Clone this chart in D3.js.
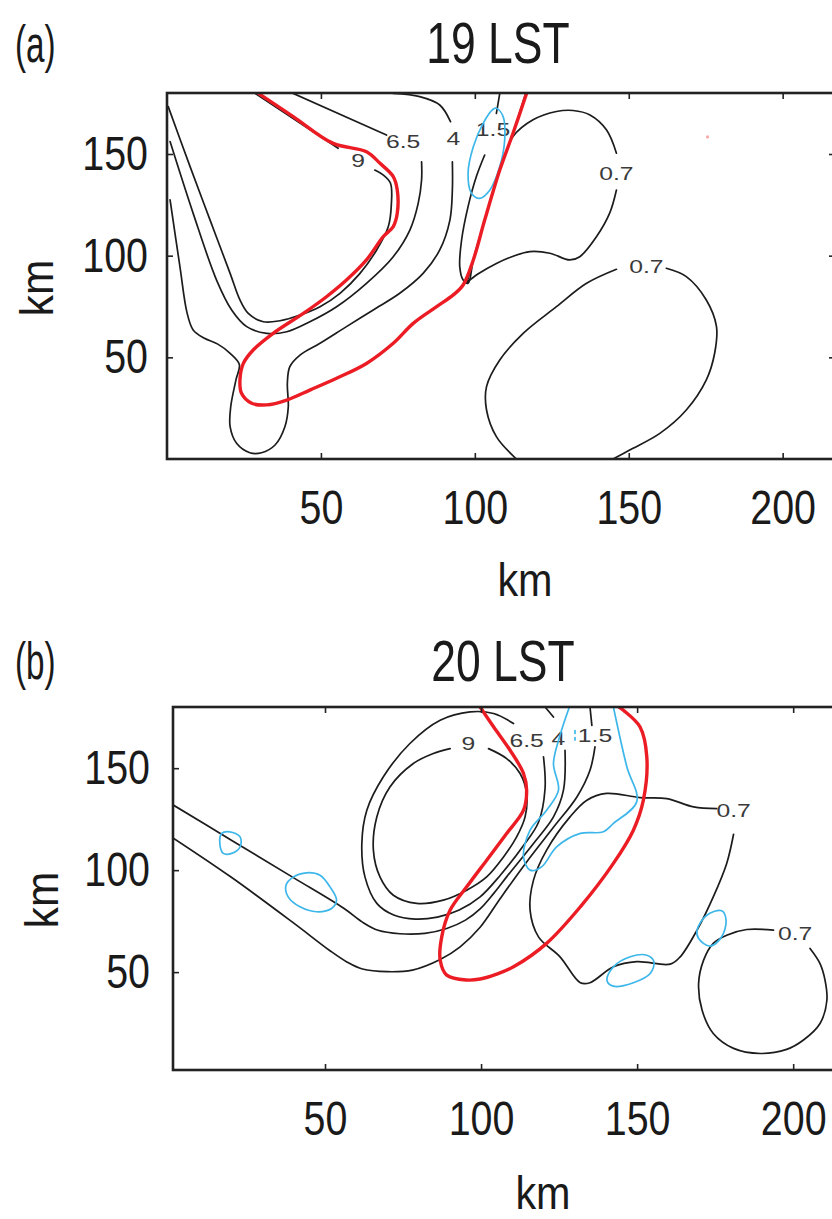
<!DOCTYPE html>
<html><head><meta charset="utf-8">
<script src="https://cdn.jsdelivr.net/npm/d3@7"></script>
<style>
html,body{margin:0;padding:0;background:#fff;}
svg{display:block;}
</style></head><body>
<svg id="fig" width="832" height="1219"></svg>
<script>
// ---------- axis ticks (km) ----------
const xTicks = [50, 100, 150, 200];
const yTicks = [50, 100, 150];

// ---------- panel (a) 19 LST : contour pieces in km ----------
const a9 = [
  [[0.4,173.3],[7.5,143.8],[14.0,117.5],[20.5,91.3],[23.7,78.2],[26.4,71.6],[31.3,67.5],[36.7,68.0],[43.2,70.8],[49.7,74.9],[56.2,81.5],[62.7,91.3],[68.1,102.8],[71.9,114.3],[72.9,125.7],[72.6,135.6],[70.2,139.7],[67.5,142.1]],
  [[55.6,152.8],[28.6,179.8]]
];
const a65 = [
  [[1.0,156.1],[8.5,120.8],[16.1,88.0],[21.0,73.3],[25.9,65.1],[32.4,61.8],[38.9,62.6],[46.4,67.5],[55.1,74.9],[64.8,86.4],[73.5,99.5],[78.9,112.6],[81.6,125.7],[82.7,137.2],[82.7,146.2]],
  [[71.3,159.3],[41.0,179.8]]
];
const a4 = [
  [[1.0,127.4],[4.2,94.6],[6.5,72.0],[8.5,63.5],[12.0,59.5],[16.5,56.5],[20.5,52.0],[23.5,46.5],[22.4,38.9],[20.7,25.7],[20.5,15.9],[22.6,7.7],[26.9,3.1],[30.7,3.1],[35.1,6.9],[38.3,15.9],[39.4,25.7],[39.1,37.2],[39.9,45.4],[43.2,51.1],[49.7,56.9],[58.3,65.1],[67.0,73.3],[75.6,81.5],[83.2,91.3],[88.6,102.8],[91.9,117.5],[92.7,132.3],[92.7,146.2]],
  [[92.1,165.9],[88.6,174.1],[82.1,178.2],[73.5,179.8]]
];
const a15 = [
  [[108.1,179.8],[107.0,170.0]],
  [[103.2,149.5],[100.5,138.9],[97.8,124.1],[95.7,107.7],[95.1,94.6],[96.2,88.0],[97.8,86.4],[99.5,97.9],[103.2,117.5],[108.1,142.1],[112.4,160.2],[116.5,179.8]]
];
const a07 = [
  [[97.5,87.0],[101.0,91.0],[107.0,96.2],[112.0,99.5],[117.9,102.0],[124.4,101.2],[130.8,97.9],[134.1,99.5],[139.5,109.3],[143.8,120.9],[146.0,132.3]],
  [[146.0,150.4],[142.8,161.8],[137.4,169.2],[131.9,171.4],[126.5,170.9],[118.9,166.8],[112.4,158.6],[110.5,152.0],[108.1,142.1],[103.2,117.5],[99.5,97.9],[97.5,87.0]],
  [[113.5,0],[107.0,11.0],[103.8,24.1],[103.8,35.6],[108.1,48.7],[115.7,61.8],[126.5,74.9],[136.3,86.4],[146.0,93.3]],
  [[162.2,93.8],[168.7,89.7],[175.2,78.2],[178.5,65.1],[177.9,52.0],[175.2,38.9],[168.7,24.1],[160.1,12.6],[150.3,4.4],[144.9,0]]
];
const aRed = [
  [[29.7,179.8],[41.0,168.4],[54.0,155.2],[64.8,151.1],[69.2,145.4],[73.5,138.9],[74.8,132.3],[74.8,120.8],[73.5,114.3],[70.2,109.3],[64.8,97.9],[58.3,88.0],[51.8,79.8],[44.3,71.6],[34.5,61.8],[28.0,53.6],[24.8,47.0],[23.7,38.9],[24.2,32.3],[27.5,27.4],[32.4,26.6],[38.9,29.0],[46.4,33.9],[55.1,39.7],[64.8,47.0],[73.5,56.9],[80.0,66.7],[87.6,74.9],[93.0,80.7],[96.2,85.6],[99.5,97.9],[103.2,117.5],[108.1,142.1],[112.4,160.2],[116.8,179.8]]
];
const aCyan = [
  [[107.0,172.5],[109.2,168.4],[109.7,156.9],[108.1,143.8],[104.9,132.3],[101.6,128.2],[98.9,130.7],[97.8,140.5],[99.5,153.6],[102.7,165.1],[105.9,172.0]]
];
const aLabels = [
  {t:"9",   x:62.1,  y:147.0},
  {t:"6.5", x:76.7,  y:156.1},
  {t:"4",   x:93.0,  y:157.7},
  {t:"1.5", x:105.9, y:161.8},
  {t:"0.7", x:146.0, y:140.5},
  {t:"0.7", x:155.7, y:94.6}
];
const aSpeck = [[175.6,158.4]];

// ---------- panel (b) 20 LST : contour pieces in km ----------
const b9 = [
  [[102.4,159.6],[108.2,154.7],[112.5,147.4],[114.6,137.6],[114.1,126.1],[111.4,116.3],[107.2,106.5],[101.8,96.7],[95.4,90.2],[87.9,85.3],[79.4,83.7],[71.9,87.7],[67.6,96.7],[65.5,109.8],[66.6,126.1],[70.8,140.8],[78.3,152.3],[84.7,157.2],[90.1,159.6]]
];
const b65 = [
  [[120.0,155.6],[120.5,139.9],[118.4,123.5],[113.6,112.1],[106.1,97.4],[99.7,86.9],[93.0,80.5],[86.0,77.0],[79.0,76.0],[72.0,78.0],[66.6,83.7],[62.8,96.7],[61.8,113.1],[63.4,129.4],[68.7,145.8],[77.2,162.1],[86.9,173.5],[96.5,177.6],[104.0,176.8],[110.4,171.9]]
];
const b4 = [
  [[120.5,180],[123.2,175.1]],
  [[126.9,158.8],[126.4,139.2],[123.2,126.1],[116.8,113.1],[108.2,96.7],[104.0,88.5],[99.7,81.0],[95.0,75.5],[89.0,71.4],[82.0,69.0],[74.0,68.8],[67.0,70.5],[62.0,74.5],[56.0,81.3],[40.0,96.2],[20.0,114.7],[1.4,131.9]]
];
const b15 = [
  [[134.9,180],[135.5,171.0]],
  [[136.5,160.5],[134.9,149.0],[130.7,135.9],[123.2,121.0],[114.6,104.0],[106.1,86.0],[99.7,72.0],[93.3,62.4],[86.9,56.2],[78.0,51.0],[70.0,50.2],[62.0,51.5],[57.0,55.0],[51.6,60.5],[40.0,74.0],[20.0,96.5],[1.4,115.7]]
];
const b07 = [
  [[175.5,130.2],[168.1,131.0],[159.5,135.1],[150.9,135.6],[140.2,137.6],[133.9,134.3],[128.5,126.1],[121.0,109.8],[116.8,95.1],[115.7,80.4],[118.4,67.3],[125.3,57.5],[131.8,44.8],[134.9,44.8],[142.4,52.6],[149.9,55.1],[160.6,53.9],[163.8,57.5],[169.2,70.6],[174.4,86.9],[178.7,103.3],[180.9,117.6]],
  [[193.7,70.6],[185.1,70.9],[178.7,68.1],[174.4,64.1],[171.3,55.9],[169.7,44.4],[170.8,31.4],[174.4,19.9],[180.9,12.6],[189.4,10.1],[197.9,12.1],[203.3,16.7],[208.6,24.8],[210.8,36.3],[210.2,46.1],[208.6,54.2],[205.4,61.6]]
];
const bRed = [
  [[99.7,180],[104.0,170.3],[109.3,158.8],[113.6,147.4],[114.6,139.2],[113.6,129.4],[108.2,118.0],[101.8,104.9],[95.4,91.8],[90.1,80.4],[87.4,67.3],[86.9,55.9],[89.0,48.5],[95.4,46.1],[99.7,46.6],[105.0,49.0],[110.4,52.6],[121.0,64.1],[131.8,82.0],[142.4,103.3],[148.8,119.6],[152.0,134.3],[153.1,155.6],[150.9,170.3],[145.6,178.4],[144.2,180]]
];
const bCyanOpen = [
  [[128.3,180],[125.3,166.1],[123.2,152.3],[124.8,139.2],[121.0,129.4],[115.7,119.6],[113.6,106.5],[115.7,100.0],[119.4,101.6],[124.2,111.4],[131.8,118.0],[139.2,118.8],[142.4,122.9],[149.9,133.7],[146.7,150.7],[142.4,180]],
  [[130.1,168.4],[130.1,167.0]],
  [[130.1,165.0],[130.1,163.8]]
];
const bCyanClosed = [
  [[16.9,118.0],[19.5,118.8],[22.8,116.3],[22.8,111.4],[20.1,108.2],[17.4,108.2],[16.3,113.1]],
  [[39.9,96.7],[44.1,98.7],[48.4,97.5],[51.6,91.8],[53.7,85.3],[52.1,81.2],[47.3,79.6],[42.0,82.0],[38.2,86.9],[37.5,92.6]],
  [[142.4,52.6],[147.8,57.5],[153.1,58.3],[155.4,55.1],[154.2,49.3],[148.8,44.8],[142.4,43.1],[140.3,46.1]],
  [[169.2,70.6],[172.3,77.9],[177.1,80.1],[178.5,75.5],[177.1,67.3],[173.4,62.7],[169.7,66.5]]
];
const bLabels = [
  {t:"9",   x:95.9,  y:162.1},
  {t:"6.5", x:114.6, y:163.7},
  {t:"4",   x:124.8, y:164.6},
  {t:"1.5", x:136.5, y:166.2},
  {t:"0.7", x:180.9, y:129.4},
  {t:"0.7", x:200.6, y:69.0}
];

// ---------- drawing ----------
const svg = d3.select("#fig");
const TEXT_FONT = "'Liberation Sans',Arial,sans-serif";

// squeeze a text horizontally to a fraction of its natural width (narrow face look)
function condense(sel, k) {
  sel.each(function () {
    const w = this.getComputedTextLength();
    d3.select(this).attr("textLength", w * k).attr("lengthAdjust", "spacingAndGlyphs");
  });
}

const panels = [
  { id:"a", tag:"(a)", title:"19 LST",
    xDom:[0,217], xRange:[167,835], yDom:[0,180], yRange:[459,93],
    black:[a9,a65,a4,a15,a07], red:aRed, cyanOpen:[], cyanClosed:aCyan, labels:aLabels, speck:aSpeck,
    tagY:62, titleX:498, titleY:63, xPad:31, yPad:19,
    xLabel:{x:525,y:596}, yLabel:{x:53,y:288} },
  { id:"b", tag:"(b)", title:"20 LST",
    xDom:[1.3,215], xRange:[173,840], yDom:[2,180], yRange:[1070,707],
    black:[b9,b65,b4,b15,b07], red:bRed, cyanOpen:bCyanOpen, cyanClosed:bCyanClosed, labels:bLabels, speck:[],
    tagY:679, titleX:503, titleY:681, xPad:31, yPad:23,
    xLabel:{x:543,y:1209}, yLabel:{x:58,y:900} }
];

panels.forEach(p => {
  const x = d3.scaleLinear().domain(p.xDom).range(p.xRange);
  const y = d3.scaleLinear().domain(p.yDom).range(p.yRange);
  const line = d3.line().x(d => x(d[0])).y(d => y(d[1])).curve(d3.curveCatmullRom.alpha(0.5));
  const loop = d3.line().x(d => x(d[0])).y(d => y(d[1])).curve(d3.curveCatmullRomClosed.alpha(0.5));

  const x0 = p.xRange[0], x1 = p.xRange[1], yT = p.yRange[1], yB = p.yRange[0];

  svg.append("clipPath").attr("id", "clip-" + p.id)
    .append("rect").attr("x", x0).attr("y", yT).attr("width", x1 - x0).attr("height", yB - yT);

  const g = svg.append("g").attr("clip-path", `url(#clip-${p.id})`);

  // black contours
  p.black.forEach(contour => {
    g.selectAll(null).data(contour).enter().append("path")
      .attr("d", line).attr("fill", "none")
      .attr("stroke", "#1c1c1c").attr("stroke-width", 1.7)
      .attr("stroke-linejoin", "round").attr("stroke-linecap", "round");
  });

  // contour labels
  g.selectAll(null).data(p.labels).enter().append("text")
    .attr("transform", d => `translate(${x(d.x)},${y(d.y)}) scale(1.3,1)`)
    .attr("text-anchor", "middle").attr("dominant-baseline", "central")
    .attr("font-family", TEXT_FONT)
    .attr("font-size", 19).attr("fill", "#3a3a3a")
    .text(d => d.t);

  // cyan contours
  g.selectAll(null).data(p.cyanClosed).enter().append("path")
    .attr("d", loop).attr("fill", "none")
    .attr("stroke", "#3db7ea").attr("stroke-width", 1.7);
  g.selectAll(null).data(p.cyanOpen).enter().append("path")
    .attr("d", line).attr("fill", "none")
    .attr("stroke", "#3db7ea").attr("stroke-width", 1.7).attr("stroke-linecap", "round");

  // red contour
  g.selectAll(null).data(p.red).enter().append("path")
    .attr("d", line).attr("fill", "none")
    .attr("stroke", "#ec1c24").attr("stroke-width", 3.4)
    .attr("stroke-linejoin", "round").attr("stroke-linecap", "round");

  g.selectAll(null).data(p.speck).enter().append("circle")
    .attr("cx", d => x(d[0])).attr("cy", d => y(d[1])).attr("r", 1.6)
    .attr("fill", "#f6a9a9");

  // axes with inward ticks
  const styleAxis = sel => {
    sel.select(".domain").remove();
    sel.selectAll(".tick line").attr("stroke", "#222").attr("stroke-width", 1.6);
    sel.selectAll(".tick text").attr("font-family", TEXT_FONT).attr("font-size", 48).attr("fill", "#1a1a1a")
      .call(condense, 0.82);
  };
  svg.append("g").attr("transform", `translate(0,${yB})`)
    .call(d3.axisBottom(x).tickValues(xTicks).tickSizeInner(-6).tickSizeOuter(0).tickPadding(p.xPad))
    .call(styleAxis);
  svg.append("g").attr("transform", `translate(0,${yT})`)
    .call(d3.axisTop(x).tickValues(xTicks).tickSizeInner(-6).tickSizeOuter(0).tickFormat(""))
    .call(styleAxis);
  svg.append("g").attr("transform", `translate(${x0},0)`)
    .call(d3.axisLeft(y).tickValues(yTicks).tickSizeInner(-6).tickSizeOuter(0).tickPadding(p.yPad))
    .call(styleAxis);
  svg.append("g").attr("transform", `translate(${x1},0)`)
    .call(d3.axisRight(y).tickValues(yTicks).tickSizeInner(-6).tickSizeOuter(0).tickFormat(""))
    .call(styleAxis);

  // frame
  svg.append("rect").attr("x", x0).attr("y", yT).attr("width", x1 - x0).attr("height", yB - yT)
    .attr("fill", "none").attr("stroke", "#222").attr("stroke-width", 2.6);

  // titles and axis names
  svg.append("text").attr("x", 15).attr("y", p.tagY)
    .attr("font-family", TEXT_FONT).attr("font-size", 52).attr("fill", "#1a1a1a").text(p.tag)
    .call(condense, 0.64);
  svg.append("text").attr("x", p.titleX).attr("y", p.titleY).attr("text-anchor", "middle")
    .attr("font-family", TEXT_FONT).attr("font-size", 57).attr("fill", "#1a1a1a").text(p.title)
    .call(condense, 0.78);
  svg.append("text").attr("x", p.xLabel.x).attr("y", p.xLabel.y).attr("text-anchor", "middle")
    .attr("font-family", TEXT_FONT).attr("font-size", 47).attr("fill", "#1a1a1a").text("km")
    .call(condense, 0.88);
  svg.append("text").attr("transform", `translate(${p.yLabel.x},${p.yLabel.y}) rotate(-90)`)
    .attr("text-anchor", "middle")
    .attr("font-family", TEXT_FONT).attr("font-size", 47).attr("fill", "#1a1a1a").text("km")
    .call(condense, 0.9);
});
</script>
</body></html>
